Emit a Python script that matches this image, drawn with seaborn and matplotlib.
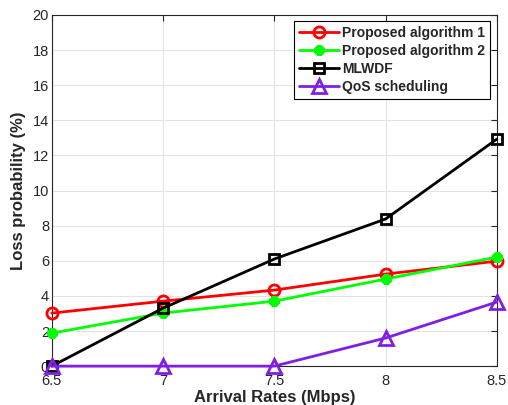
import matplotlib
matplotlib.use("Agg")
import matplotlib.pyplot as plt
import seaborn as sns
import pandas as pd

rates = [6.5, 7, 7.5, 8, 8.5]
alg1 = [3.02, 3.70, 4.33, 5.24, 5.98]
alg2 = [1.88, 3.02, 3.70, 4.96, 6.21]
mlwdf = [0.0, 3.30, 6.10, 8.38, 12.93]
qos = [0.0, 0.0, 0.0, 1.60, 3.65]

names = ["Proposed algorithm 1", "Proposed algorithm 2", "MLWDF", "QoS scheduling"]
colors = ["#FF0000", "#00FF00", "#000000", "#7F1FE6"]
markers = ["o", "*", "s", "^"]
msizes = [8, 7.5, 6.5, 9.5]

df = pd.concat([
    pd.DataFrame({"rate": rates, "loss": v, "scheme": n})
    for n, v in zip(names, [alg1, alg2, mlwdf, qos])
])

sns.set_style("whitegrid")
plt.rcParams["font.family"] = ["Liberation Sans", "DejaVu Sans"]

fig = plt.figure(figsize=(5.08, 4.05), dpi=100)
ax = fig.add_axes([0.102, 0.096, 0.876, 0.867])

sns.lineplot(data=df, x="rate", y="loss", hue="scheme", style="scheme",
             hue_order=names, style_order=names, palette=colors,
             markers=dict(zip(names, markers)), dashes=False, ax=ax, lw=2,
             legend=False)

# MATLAB-style open markers, asterisk for algorithm 2
for line, c, m, ms in zip(ax.lines, colors, markers, msizes):
    if m == "*":
        line.set_marker((8, 2, 0))
        line.set_markeredgewidth(3)
    else:
        line.set_markeredgewidth(2)
    line.set_markersize(ms)
    line.set_markeredgecolor(c)
    line.set_markerfacecolor("none")
    line.set_clip_on(False)
    line.set_zorder(3)

ax.set_xlim(6.5, 8.5)
ax.set_ylim(0, 20)
ax.set_xticks(rates)
ax.set_xticklabels(["6.5", "7", "7.5", "8", "8.5"])
ax.set_yticks(range(0, 21, 2))
ax.grid(True, color="#e3e3e3", lw=0.8)
for s in ax.spines.values():
    s.set_visible(True)
    s.set_color("#262626")
    s.set_linewidth(0.8)
ax.tick_params(direction="in", length=4, top=True, right=True, labelsize=10.5,
               colors="#262626")
ax.tick_params(axis="x", pad=6)
ax.tick_params(axis="y", pad=2)
ax.set_xlabel("Arrival Rates (Mbps)", fontsize=12, fontweight="bold", labelpad=1)
ax.set_ylabel("Loss probability (%)", fontsize=12, fontweight="bold", labelpad=5)

leg = ax.legend(handles=list(ax.lines), labels=names, loc="upper right",
                bbox_to_anchor=(0.985, 0.983), frameon=True,
                fancybox=False, edgecolor="black", framealpha=1,
                prop={"weight": "bold", "size": 10}, handlelength=2.9,
                borderpad=0.35, labelspacing=0.3, handletextpad=0.25,
                borderaxespad=0)
leg.get_frame().set_linewidth(0.8)

fig.savefig("out.png", dpi=100)
